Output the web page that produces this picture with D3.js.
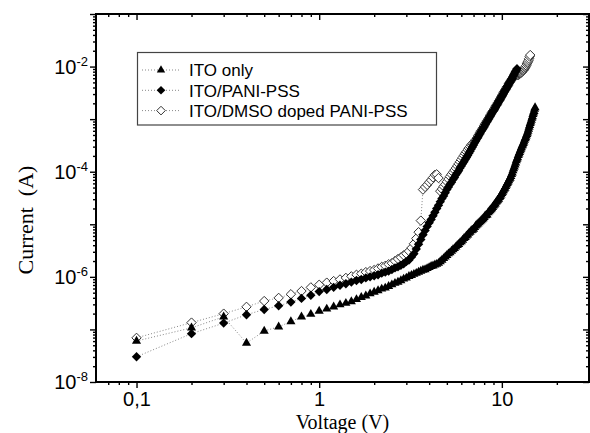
<!DOCTYPE html>
<html>
<head>
<meta charset="utf-8">
<script src="https://cdn.jsdelivr.net/npm/d3@7"></script>
<style>
  body { margin: 0; background: #fff; }
  svg { display: block; }
</style>
</head>
<body>
<svg id="chart" width="590" height="433"></svg>
<script>
// Bias voltage (V), swept in 0.1 V steps
const voltage = [
  0.1, 0.2, 0.3, 0.4, 0.5, 0.6, 0.7, 0.8, 0.9, 1.0,
  1.1, 1.2, 1.3, 1.4, 1.5, 1.6, 1.7, 1.8, 1.9, 2.0,
  2.1, 2.2, 2.3, 2.4, 2.5, 2.6, 2.7, 2.8, 2.9, 3.0,
  3.1, 3.2, 3.3, 3.4, 3.5, 3.6, 3.7, 3.8, 3.9, 4.0,
  4.1, 4.2, 4.3, 4.4, 4.5, 4.6, 4.7, 4.8, 4.9, 5.0,
  5.1, 5.2, 5.3, 5.4, 5.5, 5.6, 5.7, 5.8, 5.9, 6.0,
  6.1, 6.2, 6.3, 6.4, 6.5, 6.6, 6.7, 6.8, 6.9, 7.0,
  7.1, 7.2, 7.3, 7.4, 7.5, 7.6, 7.7, 7.8, 7.9, 8.0,
  8.1, 8.2, 8.3, 8.4, 8.5, 8.6, 8.7, 8.8, 8.9, 9.0,
  9.1, 9.2, 9.3, 9.4, 9.5, 9.6, 9.7, 9.8, 9.9, 10.0,
  10.1, 10.2, 10.3, 10.4, 10.5, 10.6, 10.7, 10.8, 10.9, 11.0,
  11.1, 11.2, 11.3, 11.4, 11.5, 11.6, 11.7, 11.8, 11.9, 12.0,
  12.1, 12.2, 12.3, 12.4, 12.5, 12.6, 12.7, 12.8, 12.9, 13.0,
  13.1, 13.2, 13.3, 13.4, 13.5, 13.6, 13.7, 13.8, 13.9, 14.0,
  14.1, 14.2, 14.3, 14.4, 14.5, 14.6, 14.7, 14.8, 14.9, 15.0,
  15.1, 15.2
];

// Current as decimal exponent, log10(I / A), one entry per voltage step
const itoOnlyLogI = [
  -7.22, -6.97, -6.76, -7.26, -7.03, -6.95, -6.85, -6.76, -6.71, -6.65,
  -6.61, -6.57, -6.53, -6.50, -6.47, -6.43, -6.39, -6.36, -6.32, -6.29,
  -6.26, -6.23, -6.21, -6.18, -6.15, -6.12, -6.10, -6.07, -6.04, -6.02,
  -5.99, -5.97, -5.95, -5.93, -5.91, -5.89, -5.87, -5.86, -5.84, -5.82,
  -5.80, -5.79, -5.77, -5.76, -5.74, -5.71, -5.68, -5.65, -5.62, -5.59,
  -5.56, -5.54, -5.51, -5.48, -5.46, -5.43, -5.40, -5.38, -5.35, -5.33,
  -5.30, -5.27, -5.25, -5.22, -5.20, -5.17, -5.15, -5.12, -5.11, -5.09,
  -5.06, -5.03, -5.01, -4.99, -4.97, -4.95, -4.93, -4.91, -4.89, -4.87,
  -4.84, -4.83, -4.82, -4.78, -4.76, -4.74, -4.72, -4.70, -4.68, -4.65,
  -4.63, -4.61, -4.58, -4.56, -4.54, -4.52, -4.49, -4.47, -4.44, -4.41,
  -4.39, -4.36, -4.33, -4.31, -4.28, -4.25, -4.22, -4.20, -4.17, -4.14,
  -4.12, -4.09, -4.05, -4.02, -3.98, -3.94, -3.91, -3.87, -3.83, -3.79,
  -3.76, -3.73, -3.69, -3.66, -3.63, -3.60, -3.57, -3.54, -3.51, -3.49,
  -3.46, -3.43, -3.40, -3.37, -3.35, -3.32, -3.29, -3.26, -3.23, -3.19,
  -3.15, -3.12, -3.08, -3.05, -3.02, -2.98, -2.95, -2.91, -2.88, -2.85,
  -2.81, -2.78
];

const paniPssLogI = [
  -7.52, -7.08, -6.88, -6.72, -6.62, -6.55, -6.48, -6.41, -6.35, -6.28,
  -6.24, -6.20, -6.16, -6.13, -6.10, -6.07, -6.05, -6.02, -6.00, -5.98,
  -5.96, -5.93, -5.91, -5.89, -5.86, -5.83, -5.81, -5.78, -5.75, -5.71,
  -5.68, -5.62, -5.56, -5.47, -5.38, -5.29, -5.20, -5.12, -5.04, -4.97,
  -4.91, -4.84, -4.77, -4.70, -4.64, -4.57, -4.51, -4.46, -4.40, -4.34,
  -4.29, -4.24, -4.20, -4.15, -4.11, -4.06, -4.02, -3.98, -3.93, -3.89,
  -3.85, -3.81, -3.77, -3.73, -3.69, -3.65, -3.61, -3.57, -3.53, -3.49,
  -3.45, -3.41, -3.37, -3.34, -3.30, -3.27, -3.23, -3.20, -3.17, -3.14,
  -3.10, -3.07, -3.04, -3.01, -2.98, -2.95, -2.92, -2.89, -2.86, -2.84,
  -2.81, -2.78, -2.75, -2.73, -2.70, -2.67, -2.64, -2.62, -2.59, -2.56,
  -2.54, -2.51, -2.48, -2.46, -2.43, -2.41, -2.38, -2.36, -2.33, -2.31,
  -2.29, -2.26, -2.24, -2.22, -2.19, -2.16, -2.14, -2.11, -2.09, -2.07,
  -2.04
];

const dmsoPaniPssLogI = [
  -7.16, -6.87, -6.70, -6.57, -6.46, -6.40, -6.33, -6.27, -6.20, -6.15,
  -6.11, -6.08, -6.05, -6.02, -5.99, -5.96, -5.94, -5.91, -5.89, -5.87,
  -5.84, -5.81, -5.79, -5.76, -5.74, -5.70, -5.66, -5.63, -5.59, -5.56,
  -5.51, -5.45, -5.37, -5.27, -5.15, -4.93, -4.34, -4.29, -4.25, -4.20,
  -4.16, -4.11, -4.06, -4.05, -4.12, -4.37, -4.33, -4.28, -4.24, -4.19,
  -4.14, -4.09, -4.05, -4.01, -3.97, -3.93, -3.89, -3.85, -3.81, -3.77,
  -3.73, -3.69, -3.65, -3.62, -3.58, -3.55, -3.52, -3.49, -3.47, -3.44,
  -3.42, -3.39, -3.36, -3.32, -3.29, -3.25, -3.22, -3.19, -3.16, -3.12,
  -3.09, -3.06, -3.03, -3.00, -2.97, -2.94, -2.91, -2.88, -2.85, -2.83,
  -2.80, -2.77, -2.74, -2.72, -2.69, -2.66, -2.64, -2.61, -2.58, -2.56,
  -2.53, -2.50, -2.48, -2.45, -2.43, -2.40, -2.38, -2.36, -2.33, -2.31,
  -2.29, -2.27, -2.25, -2.23, -2.21, -2.19, -2.18, -2.17, -2.17, -2.16,
  -2.16, -2.16, -2.16, -2.15, -2.14, -2.13, -2.12, -2.11, -2.10, -2.08,
  -2.07, -2.06, -2.04, -2.02, -2.00, -1.98, -1.95, -1.93, -1.91, -1.88,
  -1.85, -1.81, -1.78
];

const seriesNames = ["ITO only", "ITO/PANI-PSS", "ITO/DMSO doped PANI-PSS"];

// Axis ticks
const xMajorTicks = [0.1, 1, 10];
const xTickLabels = ["0,1", "1", "10"];
const yDecadeExponents = [-8, -7, -6, -5, -4, -3, -2, -1];
const yLabelExponents = [-8, -6, -4, -2];

// ---------------------------------------------------------------
const svg = d3.select("#chart");
const plot = { left: 96, right: 589, top: 14, bottom: 382 };

const x = d3.scaleLog().domain([0.06, 30]).range([plot.left, plot.right]);
const y = d3.scaleLog().domain([1e-8, 1e-1]).range([plot.bottom, plot.top]);

const tickFont = "'Liberation Sans', Arial, Helvetica, sans-serif";
const titleFont = "'Liberation Serif', 'Times New Roman', Times, serif";

// Minor tick positions: 2..9 within each decade of the domain
function minorTicks(scale) {
  const [a, b] = scale.domain();
  const out = [];
  for (let e = Math.floor(Math.log10(a)); e <= Math.ceil(Math.log10(b)); e++) {
    for (let m = 2; m <= 9; m++) {
      const v = m * Math.pow(10, e);
      if (v > a * 1.0001 && v < b * 0.9999) out.push(v);
    }
  }
  return out;
}
const xMinor = minorTicks(x);
const yMinor = minorTicks(y);
const yMajor = yDecadeExponents.map(e => Math.pow(10, e));

// Rhombus symbol (square turned by 45 degrees)
const rhombus = {
  draw(ctx, size) {
    const r = Math.sqrt(size / 2);
    ctx.moveTo(0, -r);
    ctx.lineTo(r, 0);
    ctx.lineTo(0, r);
    ctx.lineTo(-r, 0);
    ctx.closePath();
  }
};

const styles = {
  ito:  { type: d3.symbolTriangle, size: 36, fill: "#000", stroke: "none", sw: 0 },
  pani: { type: rhombus, size: 44, fill: "#000", stroke: "none", sw: 0 },
  dmso: { type: rhombus, size: 44, fill: "#fff", stroke: "#333", sw: 1 }
};

function toPoints(logI) {
  return logI.map((e, i) => ({ v: voltage[i], i: Math.pow(10, e) }));
}

// drawing order: open diamonds underneath the filled markers
const series = [
  { key: "dmso", name: seriesNames[2], points: toPoints(dmsoPaniPssLogI) },
  { key: "ito",  name: seriesNames[0], points: toPoints(itoOnlyLogI) },
  { key: "pani", name: seriesNames[1], points: toPoints(paniPssLogI) }
];

// ---- data ----
svg.append("clipPath").attr("id", "plotClip")
  .append("rect")
  .attr("x", plot.left).attr("y", plot.top)
  .attr("width", plot.right - plot.left).attr("height", plot.bottom - plot.top);

const dataLayer = svg.append("g").attr("clip-path", "url(#plotClip)");
const line = d3.line().x(d => x(d.v)).y(d => y(d.i));

series.forEach(s => {
  const st = styles[s.key];
  const g = dataLayer.append("g").attr("class", "series-" + s.key);
  g.append("path")
    .datum(s.points)
    .attr("d", line)
    .attr("fill", "none")
    .attr("stroke", "#888")
    .attr("stroke-width", 1)
    .attr("stroke-dasharray", "1,2");
  const sym = d3.symbol().type(st.type).size(st.size);
  g.selectAll("path.pt")
    .data(s.points)
    .join("path")
    .attr("class", "pt")
    .attr("transform", d => `translate(${x(d.v)},${y(d.i)})`)
    .attr("d", sym)
    .attr("fill", st.fill)
    .attr("stroke", st.stroke)
    .attr("stroke-width", st.sw);
});

// ---- axes ----
function addAxis(gen, tx, ty) {
  const g = svg.append("g").attr("transform", `translate(${tx},${ty})`).call(gen);
  g.select(".domain").remove();
  g.selectAll(".tick line").attr("stroke", "#000").attr("stroke-width", 1.4);
  return g;
}

// bottom (outward) with labels
const xb = addAxis(
  d3.axisBottom(x).tickValues(xMajorTicks).tickSize(6).tickPadding(4)
    .tickFormat((d, i) => xTickLabels[i]),
  0, plot.bottom);
xb.selectAll("text")
  .attr("font-family", tickFont).attr("font-size", 20).attr("fill", "#000");
addAxis(d3.axisBottom(x).tickValues(xMinor).tickSize(3).tickFormat(""), 0, plot.bottom);

// top (inward)
addAxis(d3.axisTop(x).tickValues(xMajorTicks).tickSize(-6).tickFormat(""), 0, plot.top);
addAxis(d3.axisTop(x).tickValues(xMinor).tickSize(-3).tickFormat(""), 0, plot.top);

// left (outward)
addAxis(d3.axisLeft(y).tickValues(yMajor).tickSize(6).tickFormat(""), plot.left, 0);
addAxis(d3.axisLeft(y).tickValues(yMinor).tickSize(3).tickFormat(""), plot.left, 0);

// right (inward)
addAxis(d3.axisRight(y).tickValues(yMajor).tickSize(-6).tickFormat(""), plot.right, 0);
addAxis(d3.axisRight(y).tickValues(yMinor).tickSize(-3).tickFormat(""), plot.right, 0);

// y tick labels: 10 with superscript exponent
const yLabels = svg.append("g");
yLabelExponents.forEach(e => {
  const t = yLabels.append("text")
    .attr("x", 88)
    .attr("y", y(Math.pow(10, e)) + 7)
    .attr("text-anchor", "end")
    .attr("font-family", tickFont)
    .attr("font-size", 20)
    .attr("fill", "#000");
  t.append("tspan").text("10");
  t.append("tspan").attr("dy", -8).attr("font-size", 13).text(String(e));
});

// frame
svg.append("rect")
  .attr("x", plot.left).attr("y", plot.top)
  .attr("width", plot.right - plot.left).attr("height", plot.bottom - plot.top)
  .attr("fill", "none").attr("stroke", "#000").attr("stroke-width", 2);

// axis titles
svg.append("text")
  .attr("transform", "translate(33,220) rotate(-90)")
  .attr("text-anchor", "middle")
  .attr("font-family", titleFont).attr("font-size", 22).attr("fill", "#000")
  .attr("xml:space", "preserve")
  .text("Current  (A)");

svg.append("text")
  .attr("x", (plot.left + plot.right) / 2).attr("y", 428.5)
  .attr("text-anchor", "middle")
  .attr("font-family", titleFont).attr("font-size", 20).attr("fill", "#000")
  .text("Voltage (V)");

// ---- legend ----
const legend = svg.append("g");
legend.append("rect")
  .attr("x", 137.5).attr("y", 52.5).attr("width", 299).attr("height", 72.5)
  .attr("fill", "#fff").attr("stroke", "#444").attr("stroke-width", 1.2);

const legendRows = [
  { key: "ito", name: seriesNames[0] },
  { key: "pani", name: seriesNames[1] },
  { key: "dmso", name: seriesNames[2] }
];
legendRows.forEach((r, k) => {
  const cy = 70 + k * 20.3;
  const st = styles[r.key];
  legend.append("line")
    .attr("x1", 142).attr("x2", 180).attr("y1", cy).attr("y2", cy)
    .attr("stroke", "#888").attr("stroke-width", 1).attr("stroke-dasharray", "1,2");
  legend.append("path")
    .attr("transform", `translate(161,${cy})`)
    .attr("d", d3.symbol().type(st.type).size(st.size * 0.85)())
    .attr("fill", st.fill).attr("stroke", st.stroke).attr("stroke-width", st.sw);
  legend.append("text")
    .attr("x", 189).attr("y", cy + 6.3)
    .attr("font-family", tickFont).attr("font-size", 17).attr("fill", "#000")
    .text(r.name);
});
</script>
</body>
</html>
